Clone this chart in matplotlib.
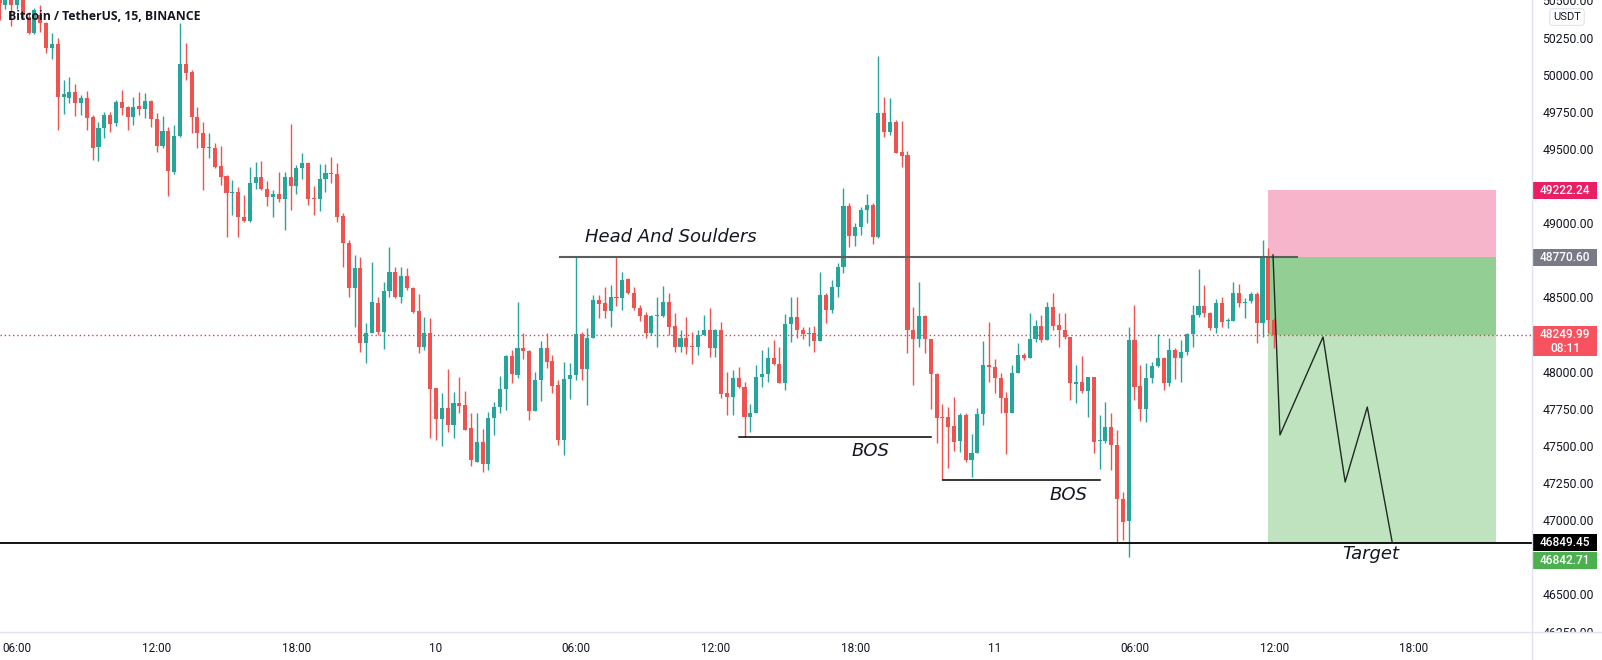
import numpy as np
import pandas as pd
import matplotlib
matplotlib.use("Agg")
import matplotlib.pyplot as plt
from matplotlib.patches import Rectangle

# BTCUSDT 15m candles, first one at 05:15 on the 9th
opens = [50570, 50469, 50537, 50469, 50503, 50389, 50281, 50402, 50348, 50180,
         50207, 49850, 49843, 49884, 49809, 49843, 49715, 49513, 49641, 49729,
         49675, 49816, 49782, 49715, 49789, 49769, 49823, 49702, 49520, 49621,
         49345, 49587, 50072, 50018, 49715, 49607, 49506, 49506, 49385, 49318,
         49203, 49210, 49042, 49015, 49271, 49311, 49230, 49176, 49197, 49163,
         49311, 49250, 49372, 49405, 49170, 49163, 49298, 49338, 49331, 49049,
         48867, 48564, 48698, 48193, 48261, 48463, 48267, 48543, 48671, 48503,
         48644, 48564, 48409, 48166, 48261, 47890, 47681, 47756, 47641, 47789,
         47776, 47621, 47392, 47527, 47379, 47688, 47762, 47884, 48106, 47978,
         48160, 48139, 47735, 47944, 48160, 48072, 47910, 47540, 47951, 47978,
         48254, 48018, 48227, 48483, 48463, 48409, 48503, 48496, 48624, 48530,
         48429, 48382, 48261, 48375, 48375, 48469, 48308, 48166, 48227, 48173,
         48166, 48247, 48281, 48160, 48281, 47857, 47830, 47958, 47897, 47695,
         47722, 47964, 47985, 48092, 48052, 47924, 48321, 48368, 48281, 48254,
         48261, 48207, 48516, 48415, 48570, 48705, 49116, 48914, 48974, 49089,
         49123, 48907, 49742, 49614, 49681, 49479, 49459, 48281, 48220, 48375,
         48220, 47985, 47695, 47695, 47634, 47533, 47708, 47405, 47453, 47715,
         48045, 48032, 47958, 47823, 47722, 47991, 48112, 48092, 48220, 48308,
         48213, 48436, 48315, 48281, 48234, 47917, 47931, 47870, 47964, 47533,
         47533, 47628, 47506, 47143, 46995, 48214, 47904, 47749, 47958, 48038,
         48092, 47924, 48146, 48092, 48133, 48254, 48382, 48442, 48395, 48294,
         48463, 48341, 48341, 48530, 48463, 48476, 48523, 48328, 48772, 48348]
highs = [50604, 50570, 50557, 50557, 50537, 50422, 50449, 50469, 50355, 50281,
         50247, 49964, 49984, 49937, 49863, 49890, 49729, 49681, 49749, 49749,
         49830, 49897, 49789, 49850, 49883, 49877, 49830, 49742, 49722, 49648,
         49661, 50348, 50213, 50032, 49782, 49681, 49607, 49540, 49520, 49325,
         49291, 49244, 49190, 49378, 49412, 49419, 49284, 49224, 49345, 49345,
         49668, 49392, 49473, 49412, 49250, 49399, 49399, 49446, 49405, 49069,
         48887, 48786, 48772, 48328, 48739, 48503, 48604, 48840, 48705, 48705,
         48698, 48570, 48523, 48368, 48362, 47890, 47857, 48018, 47863, 47964,
         47870, 47722, 47722, 47614, 47729, 47796, 47971, 48112, 48146, 48469,
         48261, 48146, 47998, 48207, 48261, 48112, 47944, 48065, 48059, 48779,
         48267, 48294, 48516, 48516, 48570, 48584, 48772, 48671, 48631, 48570,
         48449, 48402, 48382, 48503, 48577, 48530, 48395, 48281, 48368, 48267,
         48281, 48382, 48429, 48288, 48335, 47998, 48011, 48032, 47931, 47782,
         48045, 48146, 48166, 48213, 48166, 48389, 48503, 48503, 48301, 48301,
         48308, 48671, 48530, 48617, 48732, 49237, 49136, 49001, 49109, 49197,
         49136, 50126, 49850, 49843, 49695, 49688, 49486, 48436, 48604, 48382,
         48220, 47991, 47782, 47762, 47830, 47722, 47722, 47580, 47756, 48207,
         48335, 48085, 47991, 47863, 48045, 48193, 48126, 48395, 48348, 48382,
         48469, 48530, 48395, 48395, 48234, 48045, 48106, 47964, 47964, 47708,
         47796, 47722, 47607, 47190, 48301, 48449, 48045, 48059, 48065, 48254,
         48099, 48227, 48160, 48213, 48261, 48449, 48692, 48584, 48402, 48490,
         48503, 48362, 48604, 48590, 48496, 48537, 48537, 48887, 48833, 48362]
lows = [50368, 50442, 50328, 50442, 50382, 50274, 50274, 50288, 50146, 50106,
        49628, 49735, 49809, 49722, 49729, 49628, 49426, 49419, 49574, 49614,
        49655, 49729, 49628, 49661, 49729, 49708, 49648, 49479, 49506, 49183,
        49331, 49580, 49964, 49607, 49506, 49224, 49439, 49372, 49257, 48907,
        49055, 48907, 49008, 49008, 49230, 49224, 49116, 49042, 49143, 48954,
        49089, 49197, 49298, 49123, 49055, 49082, 49210, 49271, 49008, 48705,
        48503, 48301, 48133, 48059, 48261, 48247, 48153, 48503, 48496, 48463,
        48550, 48395, 48126, 48146, 47553, 47540, 47500, 47594, 47553, 47722,
        47607, 47365, 47392, 47325, 47338, 47574, 47722, 47742, 47924, 47958,
        48085, 47675, 47735, 47803, 48025, 47857, 47506, 47439, 47816, 47944,
        47944, 47776, 48227, 48362, 48362, 48301, 48442, 48415, 48523, 48415,
        48341, 48227, 48247, 48166, 48368, 48247, 48133, 48133, 48119, 48052,
        48112, 48247, 48099, 48099, 47823, 47708, 47708, 47890, 47560, 47594,
        47722, 47897, 47931, 48045, 47924, 47877, 48200, 48227, 48220, 48173,
        48133, 48207, 48328, 48395, 48503, 48665, 48840, 48846, 48921, 49001,
        48860, 48900, 49580, 49594, 49473, 49379, 48126, 47910, 48166, 48126,
        47749, 47520, 47271, 47352, 47466, 47459, 47392, 47291, 47453, 47641,
        47931, 47857, 47722, 47446, 47722, 47991, 48079, 48092, 48200, 48200,
        48213, 48281, 48166, 48220, 47809, 47789, 47857, 47695, 47453, 47345,
        47520, 47338, 46850, 46867, 46752, 47809, 47668, 47661, 47924, 48032,
        47877, 47904, 47951, 47931, 48112, 48166, 48368, 48368, 48281, 48261,
        48301, 48294, 48341, 48436, 48362, 48463, 48193, 48234, 48261, 48160]
closes = [50483, 50537, 50469, 50523, 50402, 50281, 50436, 50348, 50180, 50207,
          49850, 49870, 49884, 49809, 49843, 49708, 49506, 49641, 49729, 49668,
          49816, 49776, 49715, 49782, 49769, 49823, 49702, 49520, 49621, 49351,
          49587, 50072, 50011, 49715, 49607, 49506, 49513, 49379, 49311, 49203,
          49210, 49042, 49015, 49271, 49311, 49230, 49176, 49197, 49163, 49311,
          49250, 49372, 49405, 49163, 49163, 49298, 49338, 49331, 49042, 48867,
          48564, 48698, 48193, 48261, 48469, 48267, 48543, 48671, 48503, 48644,
          48564, 48402, 48166, 48261, 47884, 47681, 47756, 47641, 47789, 47769,
          47607, 47405, 47527, 47379, 47688, 47762, 47884, 48106, 47984, 48160,
          48139, 47735, 47944, 48160, 48065, 47904, 47540, 47951, 47978, 48254,
          48018, 48227, 48483, 48456, 48409, 48503, 48496, 48617, 48530, 48429,
          48375, 48261, 48375, 48382, 48469, 48301, 48166, 48227, 48166, 48166,
          48247, 48281, 48160, 48281, 47850, 47830, 47958, 47897, 47695, 47722,
          47964, 47985, 48092, 48052, 47924, 48321, 48368, 48281, 48254, 48257,
          48207, 48516, 48415, 48570, 48705, 49116, 48914, 48974, 49089, 49123,
          48907, 49742, 49614, 49681, 49473, 49453, 48281, 48220, 48375, 48220,
          47985, 47688, 47688, 47628, 47527, 47708, 47405, 47453, 47715, 48045,
          48032, 47958, 47823, 47722, 47991, 48112, 48092, 48220, 48308, 48213,
          48436, 48308, 48281, 48234, 47924, 47931, 47870, 47964, 47527, 47540,
          47628, 47506, 47143, 46988, 48214, 47897, 47749, 47958, 48038, 48092,
          47924, 48146, 48092, 48133, 48254, 48382, 48442, 48395, 48294, 48463,
          48335, 48348, 48530, 48463, 48469, 48523, 48328, 48772, 48348, 48250]

# drawings (x in candles from 06:00 on the 9th, y in USDT)
neck_x, neck_y = [93.3, 219.9], 48775
bos1_x, bos1_y = [124.1, 157.0], 47557
bos2_x, bos2_y = [159.1, 186.1], 47271
target = 46849.45
entry, stop, last = 48770.60, 49222.24, 48249.99
tool_x = [214.95, 254.1]
path_x = [215.8, 217.0, 224.4, 228.2, 232.0, 236.3]
path_y = [48786, 47574, 48234, 47257, 47762, 46847]

UP, DOWN = "#26a69a", "#ef5350"
TXT = "#131722"
LINE = "#e0e3eb"

n = len(opens)
x = np.arange(n) - 3
x0, x1 = -2.92, 260.3
times = pd.date_range("2021-09-09 05:15", periods=n + 50, freq="15min")

fig = plt.figure(figsize=(16.02, 6.6), dpi=100)
ax = fig.add_axes([0, 28 / 660, 1532 / 1602, 632 / 660])

# candles
o, h, l, c = map(np.array, (opens, highs, lows, closes))
cols = [UP if cc >= oo else DOWN for oo, cc in zip(o, c)]
ax.vlines(x, l, h, colors=cols, linewidth=1.0, zorder=3)
body = np.maximum(np.abs(c - o), 7)
ax.bar(x, body, bottom=np.minimum(o, c), width=0.7, color=cols, linewidth=0, zorder=4)

# short position tool
ax.add_patch(Rectangle((tool_x[0], entry), tool_x[1] - tool_x[0], stop - entry,
                       color="#f7b5cb", linewidth=0, zorder=1))
ax.add_patch(Rectangle((tool_x[0], last), tool_x[1] - tool_x[0], entry - last,
                       color="#93ce94", linewidth=0, zorder=1))
ax.add_patch(Rectangle((tool_x[0], target), tool_x[1] - tool_x[0], last - target,
                       color="#bfe3bf", linewidth=0, zorder=1))

ax.axhline(last, color="#f23645", linewidth=1, linestyle=(0, (1, 2)), zorder=2)
ax.axhline(target, color="black", linewidth=1.3, zorder=5)
ax.plot(neck_x, [neck_y, neck_y], color="#5d5d5d", linewidth=1.5, zorder=5)
ax.plot(bos1_x, [bos1_y, bos1_y], color="black", linewidth=1.1, zorder=5)
ax.plot(bos2_x, [bos2_y, bos2_y], color="black", linewidth=1.1, zorder=5)
ax.plot(path_x, path_y, color="#1e2a22", linewidth=1.0, zorder=6)

ax.text(97.6, 48907, "Head And Soulders", fontsize=13, style="italic",
        color=TXT, va="center", ha="left")
ax.text(146.6, 47466, "BOS", fontsize=13, style="italic", color=TXT, va="center", ha="center")
ax.text(180.6, 47170, "BOS", fontsize=13, style="italic", color=TXT, va="center", ha="center")
ax.text(232.6, 46772, "Target", fontsize=13, style="italic", color=TXT, va="center", ha="center")

ax.text(8 / 1532, 1 - 16 / 632, "Bitcoin / TetherUS, 15, BINANCE", transform=ax.transAxes,
        fontsize=8.8, fontweight="bold", family="Open Sans", color=TXT, va="center", ha="left",
        zorder=8)

# axes
for s in ax.spines.values():
    s.set_visible(False)
ax.yaxis.tick_right()
yt = np.arange(46250, 50501, 250)
hidden = (46750, 48250, 48750, 49250)  # under the badges
ax.set_yticks(yt)
ax.set_yticklabels(["" if v in hidden else "%.2f" % v for v in yt])
ax.tick_params(axis="y", length=0, pad=7.5, labelsize=8.8, labelcolor=TXT)
for t in ax.get_yticklabels():
    t.set_family("Roboto")

tick_idx = [i for i, t in enumerate(times)
            if t.minute == 0 and t.hour % 6 == 0 and x0 < i - 3 < x1 - 8]
ax.set_xticks([i - 3 for i in tick_idx])
ax.set_xticklabels([str(times[i].day) if times[i].hour == 0 else times[i].strftime("%H:%M")
                    for i in tick_idx])
ax.tick_params(axis="x", length=0, pad=7, labelsize=8.5, labelcolor=TXT)
for t in ax.get_xticklabels():
    t.set_family("Roboto")
ax.set_xlim(x0, x1)
ax.set_ylim(46247, 50503)

# price badges on the scale
yt_tr = ax.get_yaxis_transform()
px = (50503 - 46247) / 632  # price per pixel
w = 65 / 1532
def badge(yc, hpx, color, lines):
    ax.add_patch(Rectangle((1.0, yc - hpx * px / 2), w, hpx * px, transform=yt_tr,
                           color=color, linewidth=0, clip_on=False, zorder=10))
    for k, s in enumerate(lines):
        off = (k - (len(lines) - 1) / 2) * 14 * px
        ax.text(1.0 + 33 / 1532, yc - off, s, transform=yt_tr, color="white", fontsize=8.6,
                family="Roboto", fontweight="medium", ha="center", va="center",
                clip_on=False, zorder=11)

badge(stop, 17, "#e91e63", ["49222.24"])
badge(entry, 17, "#787b86", ["48770.60"])
badge(48205, 30, "#f7525f", ["48249.99", "08:11"])
badge(target, 17, "black", ["46849.45"])
badge(target - 18 * px, 17, "#4caf50", ["46842.71"])

# USDT box
ax.text(1.0 + 35 / 1532, 1 - 17 / 632, "USDT", transform=ax.transAxes, fontsize=8,
        family="Roboto", color=TXT, ha="center", va="center", clip_on=False, zorder=11,
        bbox=dict(boxstyle="round,pad=0.3", fc="white", ec=LINE, lw=0.8))

# frame lines and cover under the price scale
fig.patches.append(Rectangle((1533 / 1602, 0), 69 / 1602, 27 / 660, transform=fig.transFigure,
                             color="white", zorder=20))
fig.lines.append(plt.Line2D([1532 / 1602, 1532 / 1602], [0, 1], transform=fig.transFigure,
                            color=LINE, linewidth=1, zorder=21))
fig.lines.append(plt.Line2D([0, 1], [28 / 660, 28 / 660], transform=fig.transFigure,
                            color=LINE, linewidth=1, zorder=21))

fig.savefig("out.png", dpi=100, facecolor="white")
